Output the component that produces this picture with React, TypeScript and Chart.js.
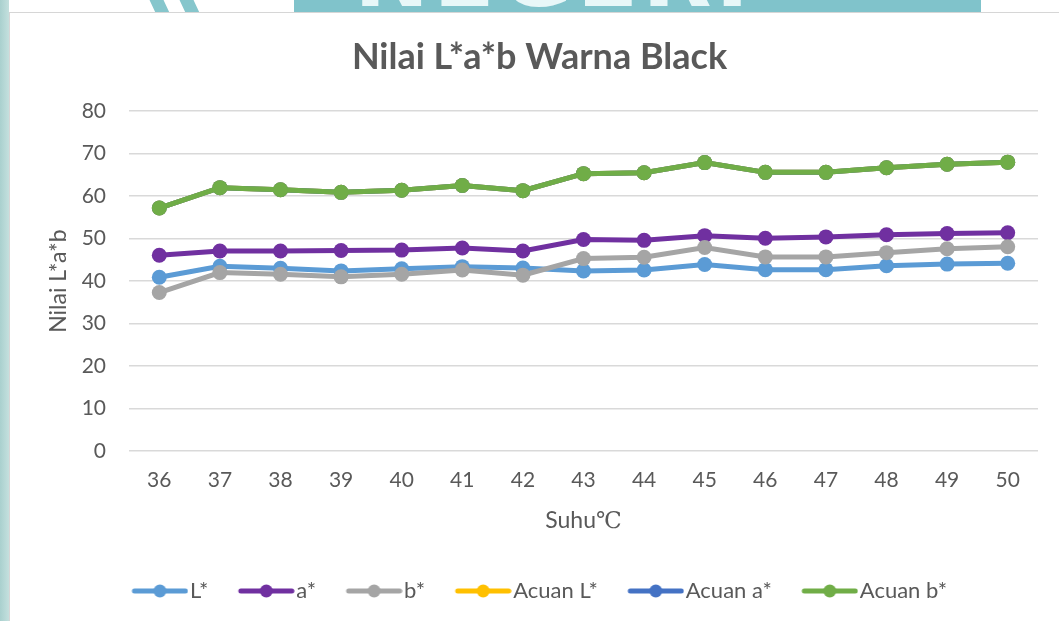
import React, { useEffect, useRef } from "react";
import { Chart, registerables } from "chart.js";

Chart.register(...registerables);

const categories = ["36", "37", "38", "39", "40", "41", "42", "43", "44", "45", "46", "47", "48", "49", "50"];
const seriesL = [40.9, 43.5, 43.0, 42.4, 42.9, 43.4, 43.1, 42.4, 42.6, 43.9, 42.7, 42.7, 43.6, 44.0, 44.2];
const seriesA = [46.1, 47.1, 47.1, 47.2, 47.3, 47.8, 47.1, 49.8, 49.6, 50.7, 50.1, 50.4, 50.9, 51.2, 51.4];
const seriesB = [37.3, 42.0, 41.6, 41.0, 41.6, 42.6, 41.4, 45.3, 45.6, 47.9, 45.7, 45.7, 46.7, 47.6, 48.1];
const acuanB = [57.2, 62.0, 61.5, 60.9, 61.4, 62.5, 61.3, 65.3, 65.5, 67.9, 65.6, 65.6, 66.7, 67.5, 68.0];
const acuanL = [...acuanB];
const acuanA = [...acuanB];

const seriesNames = ["L*", "a*", "b*", "Acuan L*", "Acuan a*", "Acuan b*"];
const seriesColors = ["#5B9BD5", "#7030A0", "#A5A5A5", "#FFC000", "#4472C4", "#70AD47"];
const seriesData = [seriesL, seriesA, seriesB, acuanL, acuanA, acuanB];

const TEXT = "#595959";
const FONT = "Lato, 'DejaVu Sans', sans-serif";

function makeMarker(color: string): HTMLCanvasElement {
  const c = document.createElement("canvas");
  c.width = 66;
  c.height = 16;
  const ctx = c.getContext("2d")!;
  ctx.strokeStyle = color;
  ctx.lineWidth = 5;
  ctx.lineCap = "round";
  ctx.beginPath();
  ctx.moveTo(12, 8);
  ctx.lineTo(63, 8);
  ctx.stroke();
  ctx.fillStyle = color;
  ctx.beginPath();
  ctx.arc(37.5, 8, 6.5, 0, Math.PI * 2);
  ctx.fill();
  return c;
}

export default function App() {
  const ref = useRef<HTMLCanvasElement>(null);

  useEffect(() => {
    if (!ref.current) return;
    const markers = seriesColors.map(makeMarker);
    const chart = new Chart(ref.current, {
      type: "line",
      data: {
        labels: categories,
        datasets: seriesNames.map((name, i) => ({
          label: name,
          data: seriesData[i],
          borderColor: seriesColors[i],
          backgroundColor: seriesColors[i],
          pointBackgroundColor: seriesColors[i],
          pointBorderColor: seriesColors[i],
          pointBorderWidth: 0,
          pointRadius: 7.5,
          borderWidth: 5,
          tension: 0,
          fill: false,
          order: seriesNames.length - i,
        })),
      },
      options: {
        responsive: false,
        animation: false,
        layout: { padding: { left: 41, right: 21, top: 20, bottom: 9 } },
        plugins: {
          tooltip: { enabled: false },
          title: {
            display: true,
            text: "Nilai L*a*b Warna Black",
            color: TEXT,
            font: { family: FONT, size: 36, weight: "bold" },
            padding: { top: 16, bottom: 32 },
          },
          legend: {
            display: true,
            position: "bottom",
            labels: {
              usePointStyle: true,
              pointStyleWidth: 47,
              boxHeight: 22,
              padding: 30,
              color: TEXT,
              font: { family: FONT, size: 22 },
              generateLabels: () =>
                seriesNames.map((name, i) => ({
                  text: name,
                  fillStyle: seriesColors[i],
                  strokeStyle: seriesColors[i],
                  fontColor: TEXT,
                  lineWidth: 0,
                  hidden: false,
                  pointStyle: markers[i] as any,
                  datasetIndex: i,
                })),
            },
          },
        },
        scales: {
          x: {
            offset: true,
            grid: { display: false, drawTicks: false },
            border: { display: false },
            ticks: { color: TEXT, font: { family: FONT, size: 21 }, padding: 17 },
            title: {
              display: true,
              text: "Suhu℃",
              color: TEXT,
              font: { family: "Lato, 'DejaVu Serif', serif", size: 23 },
              padding: { top: 0, bottom: 16 },
            },
            afterFit: (s: any) => {
              s.height = 99;
            },
          },
          y: {
            min: 0,
            max: 80,
            ticks: { stepSize: 10, color: TEXT, font: { family: FONT, size: 21 }, padding: 23 },
            grid: { color: "#D9D9D9", lineWidth: 1.5, drawTicks: false },
            border: { display: false },
            title: {
              display: true,
              text: "Nilai L*a*b",
              color: TEXT,
              font: { family: FONT, size: 23 },
              padding: { top: 4, bottom: 0 },
            },
            afterFit: (s: any) => {
              s.width = 88;
            },
          },
        },
      },
    });
    return () => chart.destroy();
  }, []);

  return (
    <div style={{ position: "absolute", left: 0, top: 0, width: 1059, height: 621, overflow: "hidden", background: "#ffffff" }}>
      <div style={{ position: "absolute", left: 0, top: 0, width: 9, height: 621, background: "linear-gradient(to right, #a9d0ce, #c4e0de)" }} />
      <div style={{ position: "absolute", left: 9, top: 12, width: 1, height: 609, background: "#d6d6d6" }} />
      <div style={{ position: "absolute", left: 9, top: 12, width: 1050, height: 1, background: "#d6d6d6" }} />
      <div style={{ position: "absolute", left: 150, top: -10, width: 14, height: 22, background: "#86c6cc", transform: "skewX(25deg)" }} />
      <div style={{ position: "absolute", left: 180, top: -10, width: 14, height: 22, background: "#86c6cc", transform: "skewX(25deg)" }} />
      <div style={{ position: "absolute", left: 294, top: 0, width: 687, height: 12, background: "#80c3cb", overflow: "hidden" }}>
        <div style={{ position: "absolute", left: 60, top: -78, fontFamily: "'DejaVu Sans', sans-serif", fontWeight: "bold", fontSize: 90, color: "#e8f7f8", letterSpacing: 4, whiteSpace: "nowrap" }}>NEGERI</div>
      </div>
      <canvas ref={ref} width={1059} height={621} style={{ position: "absolute", left: 0, top: 0, width: 1059, height: 621 }} />
    </div>
  );
}
